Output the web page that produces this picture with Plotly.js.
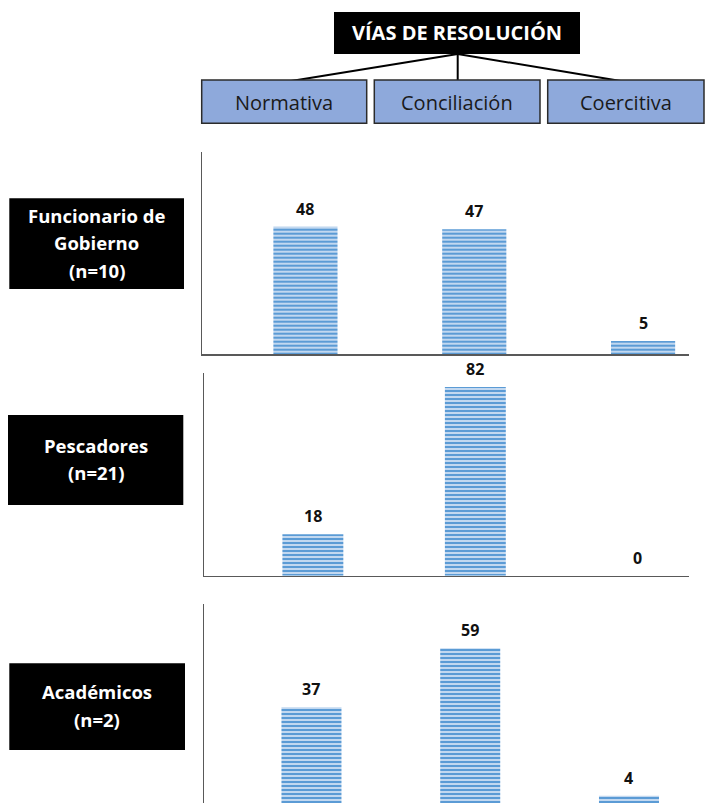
<!DOCTYPE html>
<html>
<head>
<meta charset="utf-8">
<script src="https://cdn.plot.ly/plotly-3.0.1.min.js"></script>
<style>html,body{margin:0;padding:0;background:#fff;}#chart{width:705px;height:803px;}</style>
</head>
<body>
<div id="chart"></div>
<script>
// ---- Data ----
const categories = ["Normativa", "Conciliación", "Coercitiva"];
const groups = ["Funcionario de<br>Gobierno<br>(n=10)", "Pescadores<br>(n=21)", "Académicos<br>(n=2)"];
const funcionarios = [48, 47, 5];
const pescadores = [18, 82, 0];
const academicos = [37, 59, 4];
const headerTitle = "VÍAS DE RESOLUCIÓN";

// ---- Helpers (pixel -> paper) ----
const W = 705, H = 803;
const X = px => px / W;
const Y = py => 1 - py / H;
const FONT = "Open Sans, Liberation Sans, sans-serif";

const seriesList = [funcionarios, pescadores, academicos];
const panels = [
  {x0: 202.3, x1: 689, y0: 151.7, y1: 354.3, xr: [-0.611, 2.272], yr: [0, 76.2], w: 0.38, showBase: true},
  {x0: 204, x1: 689, y0: 373, y1: 575.7, xr: [-0.67, 2.315], yr: [0, 88.1], w: 0.375, showBase: true},
  {x0: 204.3, x1: 689, y0: 604, y1: 803, xr: [-0.675, 2.378], yr: [1.3, 75.55], w: 0.378, showBase: false}
];

const data = [];
const layout = {
  width: W, height: H,
  margin: {l: 0, r: 0, t: 0, b: 0},
  paper_bgcolor: "#ffffff",
  plot_bgcolor: "rgba(0,0,0,0)",
  showlegend: false,
  font: {family: FONT, color: "#000"},
  shapes: [],
  annotations: []
};

panels.forEach((p, i) => {
  const n = i === 0 ? "" : String(i + 1);
  data.push({
    type: "bar",
    x: [0, 1, 2],
    y: seriesList[i],
    width: p.w,
    xaxis: "x" + n,
    yaxis: "y" + n,
    marker: {
      color: "#BDD7EE",
      line: {width: 0},
      pattern: {shape: "-", fgcolor: "#5B9BD5", bgcolor: "#C2D8F0", size: 4, solidity: 0.5, fillmode: "replace"}
    },
    hoverinfo: "skip"
  });
  layout["xaxis" + n] = {
    domain: [X(p.x0), X(p.x1)],
    range: p.xr,
    anchor: "y" + n,
    showgrid: false, zeroline: false, showticklabels: false, ticks: "",
    showline: p.showBase, linecolor: "#595959", linewidth: 1.2,
    fixedrange: true
  };
  layout["yaxis" + n] = {
    domain: [Y(p.y1), Y(p.y0)],
    range: p.yr,
    anchor: "x" + n,
    showgrid: false, zeroline: false, showticklabels: false, ticks: "",
    showline: true, linecolor: "#595959", linewidth: 1.2,
    fixedrange: true
  };
  // value labels
  seriesList[i].forEach((v, k) => {
    layout.annotations.push({
      xref: "x" + n, yref: "y" + n, x: k, y: v,
      text: "<b>" + v + "</b>", showarrow: false,
      yanchor: "bottom", yshift: 5,
      font: {family: FONT, size: 16, color: "#111"}
    });
  });
});

// ---- Header ----
layout.shapes.push({type: "rect", xref: "paper", yref: "paper",
  x0: X(334), x1: X(580), y0: Y(54), y1: Y(12), fillcolor: "#000", line: {width: 0}});
layout.annotations.push({xref: "paper", yref: "paper", x: X(457), y: Y(33),
  text: "<b>" + headerTitle + "</b>", showarrow: false, xanchor: "center", yanchor: "middle",
  font: {family: FONT, size: 20, color: "#fff"}});
// connector lines
const lineStyle = {color: "#000", width: 2};
[[285, 82], [457.7, 82], [626.7, 82]].forEach(([ex, ey]) => {
  layout.shapes.push({type: "line", xref: "paper", yref: "paper",
    x0: X(457.7), y0: Y(54), x1: X(ex), y1: Y(ey), line: lineStyle});
});
// category boxes
const boxes = [[201.7, 366.7], [374.3, 540], [547.7, 704]];
boxes.forEach(([bx0, bx1], k) => {
  layout.shapes.push({type: "rect", xref: "paper", yref: "paper",
    x0: X(bx0), x1: X(bx1), y0: Y(123.3), y1: Y(80),
    fillcolor: "#8EA9DB", line: {color: "#2b2b2b", width: 1.5}});
  layout.annotations.push({xref: "paper", yref: "paper", x: X((bx0 + bx1) / 2), y: Y(102),
    text: categories[k], showarrow: false, xanchor: "center", yanchor: "middle",
    font: {family: FONT, size: 20, color: "#1a1a1a"}});
});

// ---- Group label boxes ----
const gboxes = [[9.3, 184, 198.3, 289], [8, 183.3, 415, 505], [9.3, 185, 663.3, 750]];
const lineGap = 27.5;
gboxes.forEach(([gx0, gx1, gy0, gy1], k) => {
  layout.shapes.push({type: "rect", xref: "paper", yref: "paper",
    x0: X(gx0), x1: X(gx1), y0: Y(gy1), y1: Y(gy0), fillcolor: "#000", line: {width: 0}});
  const lines = groups[k].split("<br>");
  const cy = (gy0 + gy1) / 2 - 1;
  lines.forEach((ln, j) => {
    const ly = cy + (j - (lines.length - 1) / 2) * lineGap;
    layout.annotations.push({xref: "paper", yref: "paper", x: X((gx0 + gx1) / 2), y: Y(ly),
      text: "<b>" + ln + "</b>", showarrow: false, xanchor: "center", yanchor: "middle",
      font: {family: FONT, size: 18.5, color: "#fff"}});
  });
});

Plotly.newPlot("chart", data, layout, {displayModeBar: false, staticPlot: true});
</script>
</body>
</html>
